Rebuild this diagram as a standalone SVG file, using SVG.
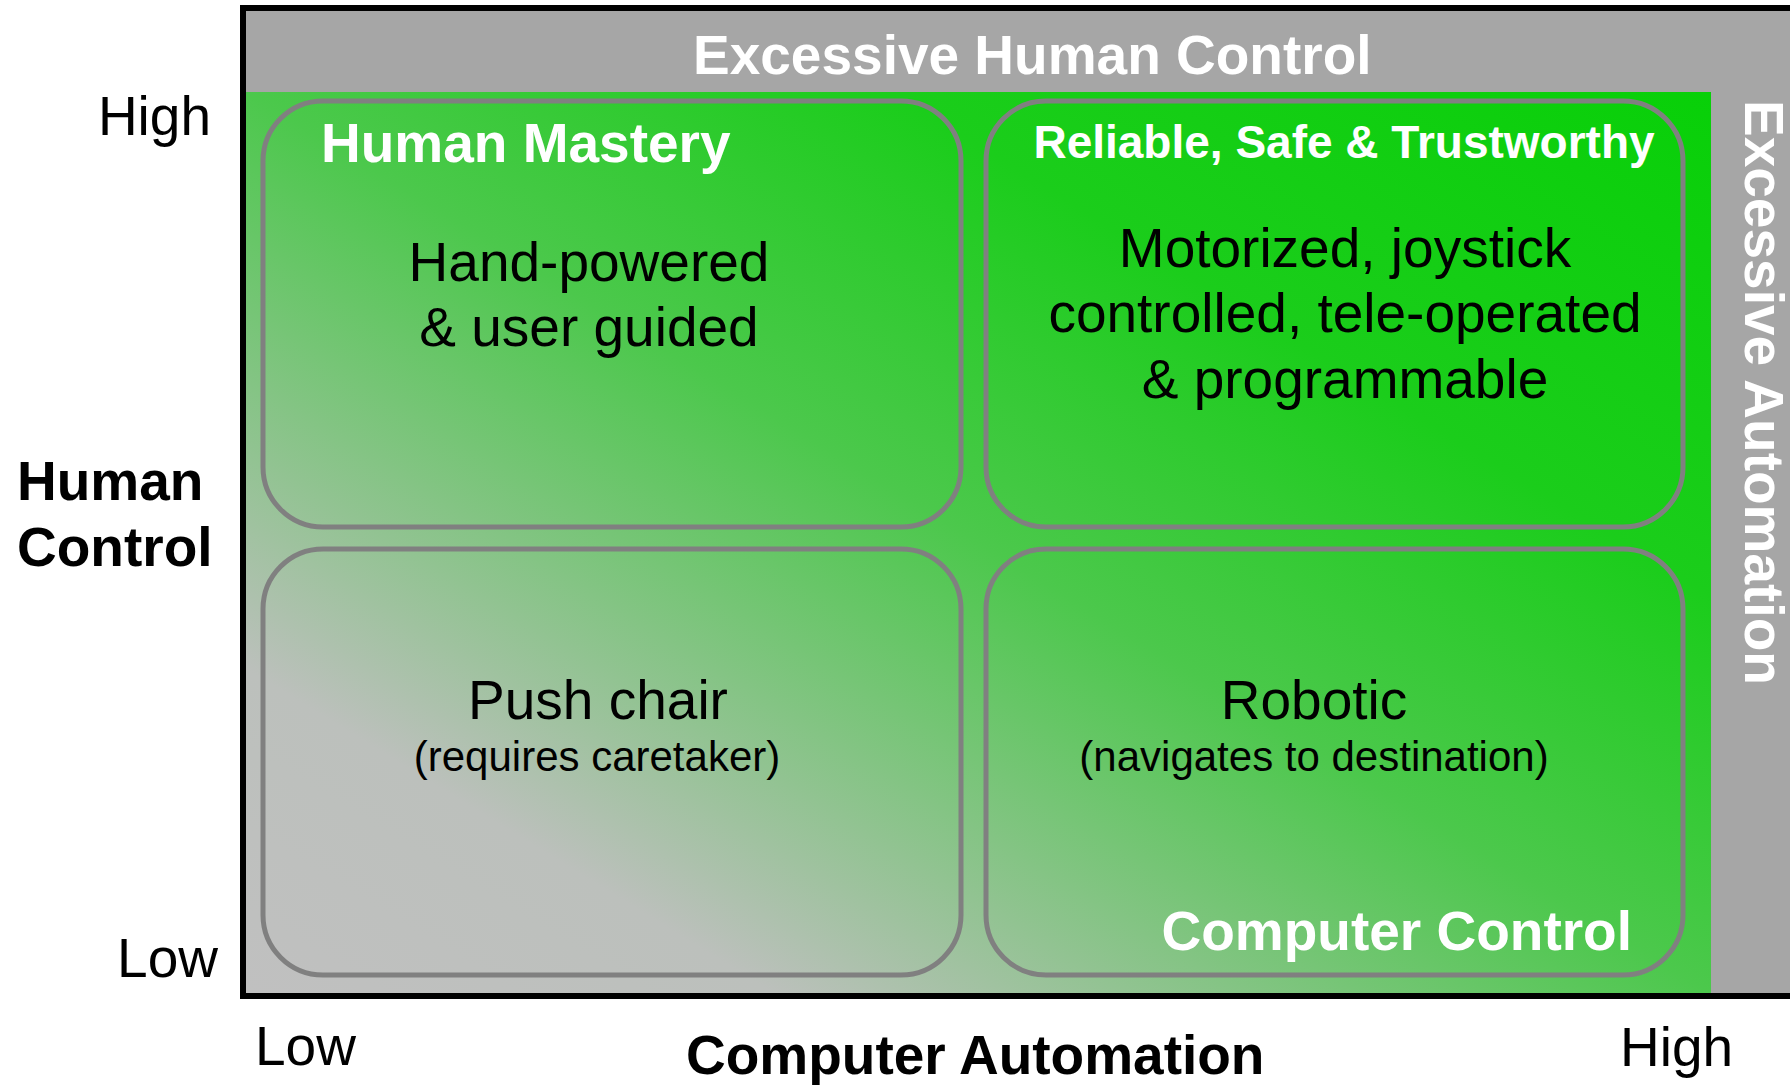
<svg xmlns="http://www.w3.org/2000/svg" width="1790" height="1085" viewBox="0 0 1790 1085">
<defs>
<linearGradient id="bg" x1="0" y1="1" x2="1" y2="0">
<stop offset="0" stop-color="#c0c0c0"/>
<stop offset="0.18" stop-color="#bcc0bc"/>
<stop offset="0.5" stop-color="#4cc84c"/>
<stop offset="0.72" stop-color="#1bcd1b"/>
<stop offset="1" stop-color="#08d008"/>
</linearGradient>
<style>
.box{fill:none;stroke:#808080;stroke-width:5}
.t{font-family:"Liberation Sans",Arial,sans-serif;font-size:55px;fill:#000}
.b{font-family:"Liberation Sans",Arial,sans-serif;font-size:55px;font-weight:bold}
.r{font-size:46px}
.w{fill:#fff}
.k{fill:#000}
.s{font-family:"Liberation Sans",Arial,sans-serif;font-size:42px;fill:#000}
.m{text-anchor:middle}
.e{text-anchor:end}
</style>
</defs>
<rect width="1790" height="1085" fill="#fff"/>
<g id="frame">
<rect x="243" y="8" width="1547" height="988" fill="#a6a6a6"/>
<rect x="246" y="92" width="1465" height="901" fill="url(#bg)"/>
<line x1="243" y1="5" x2="243" y2="999" stroke="#000" stroke-width="6"/>
<line x1="240" y1="8" x2="1790" y2="8" stroke="#000" stroke-width="6"/>
<line x1="240" y1="996" x2="1790" y2="996" stroke="#000" stroke-width="6"/>
</g>
<g id="excessive-human-control">
<text class="b w" x="693" y="74">Excessive Human Control</text>
</g>
<g id="excessive-automation">
<text class="b w" transform="translate(1745,100) rotate(90)">Excessive Automation</text>
</g>
<g id="human-mastery">
<rect class="box" x="263" y="101" width="698" height="426" rx="60" ry="60"/>
<text class="b w" x="321" y="162">Human Mastery</text>
<text class="t m" x="589" y="281">Hand-powered</text>
<text class="t m" x="589" y="346">&amp; user guided</text>
</g>
<g id="reliable">
<rect class="box" x="986" y="101" width="697" height="426" rx="60" ry="60"/>
<text class="b r w m" x="1344" y="158">Reliable, Safe &amp; Trustworthy</text>
<text class="t m" x="1345" y="267">Motorized, joystick</text>
<text class="t m" x="1345" y="332">controlled, tele-operated</text>
<text class="t m" x="1345" y="398">&amp; programmable</text>
</g>
<g id="push-chair">
<rect class="box" x="263" y="549" width="698" height="426" rx="60" ry="60"/>
<text class="t m" x="598" y="719">Push chair</text>
<text class="s m" x="597" y="771">(requires caretaker)</text>
</g>
<g id="robotic">
<rect class="box" x="986" y="549" width="697" height="426" rx="60" ry="60"/>
<text class="t m" x="1314" y="719">Robotic</text>
<text class="s m" x="1314" y="771">(navigates to destination)</text>
<text class="b w e" x="1632" y="950">Computer Control</text>
</g>
<g id="axes">
<text class="t e" x="211" y="135">High</text>
<text class="t e" x="218" y="977">Low</text>
<text class="b k" x="17" y="500">Human</text>
<text class="b k" x="17" y="566">Control</text>
<text class="t" x="255" y="1065">Low</text>
<text class="b k" x="686" y="1074">Computer Automation</text>
<text class="t" x="1620" y="1066">High</text>
</g>
<g id="connectors"/>
</svg>
